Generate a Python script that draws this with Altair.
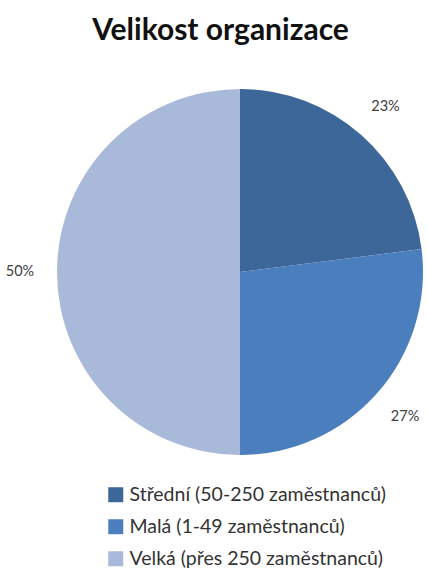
import altair as alt
import pandas as pd

categories = ["Střední (50-250 zaměstnanců)", "Malá (1-49 zaměstnanců)", "Velká (přes 250 zaměstnanců)"]
values = [23, 27, 50]
labels = ["23%", "27%", "50%"]
colors = ["#3D6699", "#4A7EBD", "#A8B9D9"]

df = pd.DataFrame({"kat": categories, "hodnota": values, "popis": labels, "poradi": [0, 1, 2]})

TOP = 58
cx, cy = 240, 272 - TOP

base = alt.Chart(df).encode(
    theta=alt.Theta("hodnota:Q", stack=True),
    order=alt.Order("poradi:Q"),
)

arcs = base.mark_arc(stroke=None).encode(
    x=alt.value(cx), y=alt.value(cy),
    radius=alt.value(183),
    color=alt.Color(
        "kat:N",
        scale=alt.Scale(domain=categories, range=colors),
        sort=categories,
        legend=alt.Legend(
            title=None, orient="none", legendX=106, legendY=485 - TOP,
            symbolType="square", symbolSize=225, symbolStrokeWidth=0,
            labelFontSize=19.5, labelFont="Lato", labelColor="#333333",
            rowPadding=11, labelOffset=4, labelLimit=400,
        ),
    ),
)

text = base.mark_text(fontSize=14.5, font="Lato", color="#404040").encode(
    x=alt.value(cx), y=alt.value(cy),
    radius=alt.value(220),
    text="popis:N",
)

chart = alt.layer(arcs, text).properties(
    width=427, height=570 - TOP,
    title=alt.TitleParams("Velikost organizace", fontSize=30, font="Lato", fontWeight="bold",
                          color="#111111", anchor="middle", offset=12, dx=7, dy=0),
    autosize=alt.AutoSizeParams(type="none"),
    padding={"top": TOP, "left": 0, "right": 0, "bottom": 0},
).configure_view(stroke=None)

chart.save("out.html", embed_options={"renderer": "svg", "actions": False})
